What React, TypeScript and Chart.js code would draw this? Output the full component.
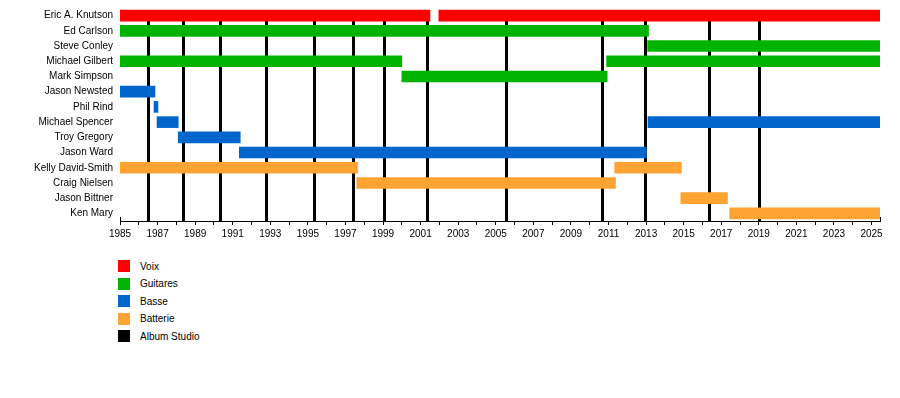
import React, { useEffect, useRef } from "react";
import { Chart, registerables } from "chart.js";

Chart.register(...registerables);

const members = [
  "Eric A. Knutson",
  "Ed Carlson",
  "Steve Conley",
  "Michael Gilbert",
  "Mark Simpson",
  "Jason Newsted",
  "Phil Rind",
  "Michael Spencer",
  "Troy Gregory",
  "Jason Ward",
  "Kelly David-Smith",
  "Craig Nielsen",
  "Jason Bittner",
  "Ken Mary",
];

const START = 1985;
const END = 2025.45;
const LAST_TICK = 2025;

const voix = [
  { y: "Eric A. Knutson", x: [1985, 2001.5] },
  { y: "Eric A. Knutson", x: [2001.97, END] },
];

const guitares = [
  { y: "Ed Carlson", x: [1985, 2013.13] },
  { y: "Steve Conley", x: [2013.08, END] },
  { y: "Michael Gilbert", x: [1985, 2000.0] },
  { y: "Michael Gilbert", x: [2010.9, END] },
  { y: "Mark Simpson", x: [2000.0, 2010.93] },
];

const basse = [
  { y: "Jason Newsted", x: [1985, 1986.86] },
  { y: "Phil Rind", x: [1986.81, 1987.02] },
  { y: "Michael Spencer", x: [1986.97, 1988.1] },
  { y: "Michael Spencer", x: [2013.1, END] },
  { y: "Troy Gregory", x: [1988.1, 1991.4] },
  { y: "Jason Ward", x: [1991.35, 2013.02] },
];

const batterie = [
  { y: "Kelly David-Smith", x: [1985, 1997.64] },
  { y: "Kelly David-Smith", x: [2011.33, 2014.88] },
  { y: "Craig Nielsen", x: [1997.6, 2011.37] },
  { y: "Jason Bittner", x: [2014.85, 2017.33] },
  { y: "Ken Mary", x: [2017.45, END] },
];

const albumYears = [
  1986.49, 1988.37, 1990.34, 1992.77, 1995.35, 1997.41, 1999.06, 2001.35,
  2005.57, 2010.66, 2012.93, 2016.35, 2019.0,
];

const legendItems = [
  { label: "Voix", color: "#FF0000" },
  { label: "Guitares", color: "#00B300" },
  { label: "Basse", color: "#0066CC" },
  { label: "Batterie", color: "#FFA333" },
  { label: "Album Studio", color: "#000000" },
];

const FONT = "'Liberation Sans', Arial, sans-serif";

const albumPlugin = {
  id: "albumLines",
  beforeDatasetsDraw(chart: any) {
    const { ctx, chartArea, scales } = chart;
    const xs = scales.x;
    const ys = scales.y;
    const top = ys.getPixelForValue(0);
    ctx.save();
    ctx.strokeStyle = "#000";
    ctx.lineWidth = 3;
    albumYears.forEach((yr) => {
      const px = Math.round(xs.getPixelForValue(yr)) + 0.5;
      ctx.beginPath();
      ctx.moveTo(px, top);
      ctx.lineTo(px, chartArea.bottom);
      ctx.stroke();
    });
    ctx.lineWidth = 1;
    [chartArea.left, chartArea.right].forEach((p: number) => {
      const px = Math.round(p) + 0.5;
      ctx.beginPath();
      ctx.moveTo(px, chartArea.bottom - 4);
      ctx.lineTo(px, chartArea.bottom);
      ctx.stroke();
    });
    ctx.restore();
  },
};

export default function App() {
  const ref = useRef<HTMLCanvasElement | null>(null);

  useEffect(() => {
    document.body.style.margin = "0";
    if (!ref.current) return;
    const mk = (label: string, data: any[], color: string) => ({
      label,
      data,
      backgroundColor: color,
      borderWidth: 0,
      borderSkipped: false,
      barThickness: 11,
      grouped: false,
    });
    const chart = new Chart(ref.current, {
      type: "bar",
      data: {
        labels: members,
        datasets: [
          mk("Voix", voix, legendItems[0].color),
          mk("Guitares", guitares, legendItems[1].color),
          mk("Basse", basse, legendItems[2].color),
          mk("Batterie", batterie, legendItems[3].color),
        ] as any,
      },
      options: {
        indexAxis: "y",
        responsive: false,
        animation: false,
        layout: { padding: { top: 8, right: 20, left: 0, bottom: 0 } },
        plugins: {
          legend: { display: false },
          tooltip: { enabled: false },
        },
        scales: {
          y: {
            type: "category",
            labels: members,
            offset: true,
            grid: { display: false, drawTicks: false },
            border: { display: false },
            ticks: {
              color: "#000",
              font: { family: FONT, size: 10 },
              padding: 7,
              autoSkip: false,
            },
            afterFit: (s: any) => {
              s.width = 120;
              s.paddingTop = 0;
              s.paddingBottom = 0;
            },
          },
          x: {
            type: "linear",
            min: START,
            max: END,
            grid: {
              display: true,
              drawOnChartArea: false,
              drawTicks: true,
              tickLength: 4,
              color: "#000",
            },
            border: { display: true, color: "#000", width: 1 },
            afterBuildTicks: (s: any) => {
              const t: any[] = [];
              for (let v = START; v <= LAST_TICK; v++) t.push({ value: v });
              s.ticks = t;
            },
            ticks: {
              stepSize: 1,
              autoSkip: false,
              maxRotation: 0,
              color: "#000",
              padding: 3,
              font: { family: FONT, size: 10 },
              callback: (v: any) => (Number(v) % 2 === 1 ? String(v) : ""),
            },
            afterFit: (s: any) => {
              s.height = 19;
              s.paddingLeft = 0;
              s.paddingRight = 0;
            },
          },
        },
      } as any,
      plugins: [albumPlugin],
    });
    return () => chart.destroy();
  }, []);

  return (
    <div style={{ position: "relative", width: 900, height: 398, background: "#fff", fontFamily: FONT }}>
      <canvas ref={ref} width={900} height={240} style={{ display: "block" }} />
      <div style={{ position: "absolute", left: 118, top: 257.5 }}>
        {legendItems.map((it) => (
          <div key={it.label} style={{ display: "flex", alignItems: "center", height: 17.5 }}>
            <div style={{ width: 12, height: 12, background: it.color }} />
            <span style={{ marginLeft: 10, fontSize: 10, color: "#000" }}>{it.label}</span>
          </div>
        ))}
      </div>
    </div>
  );
}
